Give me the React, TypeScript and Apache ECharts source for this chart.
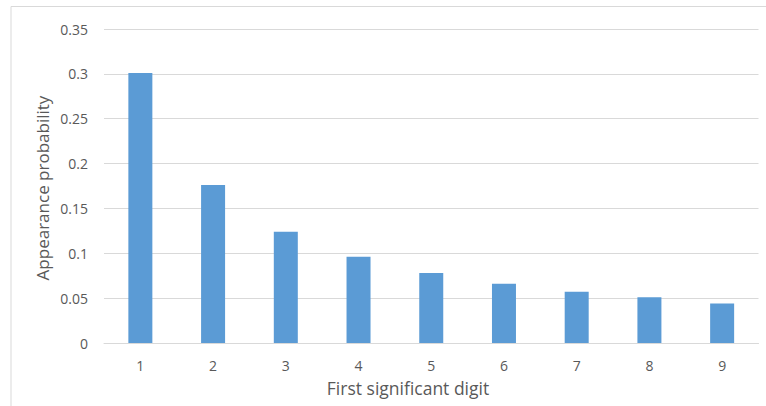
import React, { useEffect, useRef } from "react";
import * as echarts from "echarts";

const categories = ["1", "2", "3", "4", "5", "6", "7", "8", "9"];
const probabilities = [0.301, 0.176, 0.124, 0.096, 0.078, 0.066, 0.057, 0.051, 0.044];
const xTitle = "First significant digit";
const yTitle = "Appearance probability";

const FONT = "'Open Sans', 'Noto Sans', sans-serif";

export default function App() {
  const ref = useRef<HTMLDivElement>(null);
  useEffect(() => {
    if (!ref.current) return;
    const chart = echarts.init(ref.current, undefined, { renderer: "svg" });
    chart.setOption({
      animation: false,
      backgroundColor: "#ffffff",
      grid: { left: 104, right: 7.5, top: 29, bottom: 63, containLabel: false },
      xAxis: {
        type: "category",
        data: categories,
        axisLine: { show: true, lineStyle: { color: "#D9D9D9", width: 1 } },
        axisTick: { show: false },
        axisLabel: { color: "#595959", fontSize: 14, fontFamily: FONT, margin: 15 },
      },
      yAxis: {
        type: "value",
        min: 0,
        max: 0.35,
        interval: 0.05,
        axisLine: { show: false },
        axisTick: { show: false },
        splitLine: { lineStyle: { color: "#D9D9D9", width: 1 } },
        axisLabel: {
          color: "#595959",
          fontSize: 14,
          fontFamily: FONT,
          margin: 16,
          formatter: (v: number) => String(parseFloat(v.toFixed(2))),
        },
      },
      series: [
        {
          type: "bar",
          data: probabilities,
          barWidth: 24,
          itemStyle: { color: "#5B9BD5" },
        },
      ],
      graphic: [
        {
          type: "rect",
          shape: { x: 11, y: 6.5, width: 820, height: 460 },
          style: { fill: "none", stroke: "#D9D9D9", lineWidth: 1 },
          silent: true,
        },
        {
          type: "text",
          x: 42,
          y: 188,
          rotation: Math.PI / 2,
          style: {
            text: yTitle,
            fill: "#595959",
            fontSize: 17,
            fontFamily: FONT,
            align: "center",
            verticalAlign: "middle",
          },
        },
        {
          type: "text",
          x: 408,
          y: 388,
          style: {
            text: xTitle,
            fill: "#595959",
            fontSize: 17.5,
            fontFamily: FONT,
            align: "center",
            verticalAlign: "middle",
          },
        },
      ],
    });
    return () => chart.dispose();
  }, []);
  return (
    <div
      ref={ref}
      style={{ position: "fixed", left: 0, top: 0, width: 766, height: 406 }}
    />
  );
}
